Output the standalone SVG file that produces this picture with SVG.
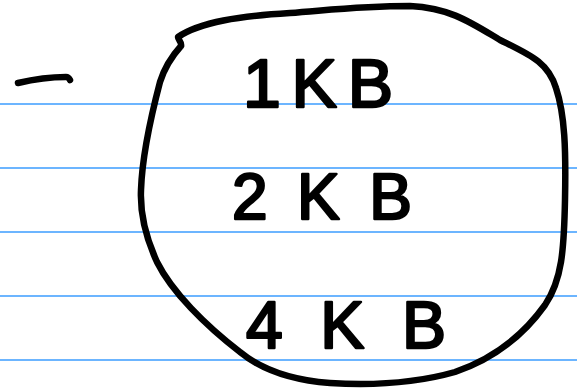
<svg xmlns="http://www.w3.org/2000/svg" width="577" height="389" viewBox="0 0 577 389">
<style>
.rule{stroke:#3b9cff;stroke-width:1.6;fill:none}
.ink{stroke:#000;stroke-width:6.5;fill:none;stroke-linecap:round;stroke-linejoin:round}
.hw{font-family:"Liberation Sans","DejaVu Sans",sans-serif;fill:#000;stroke:#000;stroke-width:2.5;stroke-linejoin:round}
</style>
<rect width="577" height="389" fill="#fff"/>
<g id="paper-lines">
<line class="rule" x1="0" y1="104" x2="577" y2="104"/>
<line class="rule" x1="0" y1="168" x2="577" y2="168"/>
<line class="rule" x1="0" y1="232" x2="577" y2="232"/>
<line class="rule" x1="0" y1="296" x2="577" y2="296"/>
<line class="rule" x1="0" y1="360" x2="577" y2="360"/>
</g>
<g id="dash">
<path class="ink" d="M18,83 C35,79 50,77 66,77 C68,77 69,78 70,80"/>
</g>
<g id="blob">
<path class="ink" d="M181,46 C182,42 178,40 178,37 C200,22 240,16 290,13 C330,10 360,6 410,6 C450,8 470,22 500,40 C530,55 548,62 556,88 C565,115 566,150 565,200 C564,250 562,280 545,305 C520,340 490,360 455,372 C420,382 380,386 330,383 C290,380 262,370 240,352 C205,325 172,292 157,262 C146,238 140,212 141,190 C142,160 150,120 160,82 C165,66 172,56 181,46"/>
</g>
<g id="label-1kb">
<text class="hw" x="243" y="107" font-size="68" textLength="150" lengthAdjust="spacing">1KB</text>
</g>
<g id="label-2kb">
<text class="hw" x="232" y="219" font-size="64" textLength="180" lengthAdjust="spacing">2KB</text>
</g>
<g id="label-4kb">
<text class="hw" x="246" y="348" font-size="66" textLength="200" lengthAdjust="spacing">4KB</text>
</g>
</svg>
